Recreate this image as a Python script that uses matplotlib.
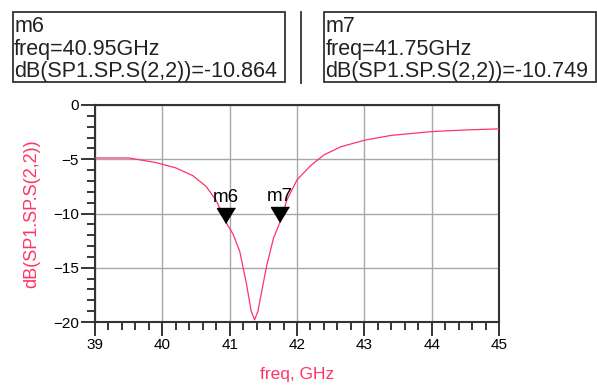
import matplotlib
matplotlib.use("Agg")
import matplotlib.pyplot as plt
from matplotlib.patches import Rectangle
from matplotlib.lines import Line2D
from matplotlib.ticker import MultipleLocator

plt.rcParams['font.family'] = ['Liberation Sans', 'DejaVu Sans']

# S(2,2) trace
freq = [39.0, 39.5, 39.9, 40.2, 40.45, 40.65, 40.8, 40.95, 41.05, 41.15,
        41.25, 41.32, 41.37, 41.42, 41.5, 41.55, 41.65, 41.75, 41.85, 42.0,
        42.2, 42.4, 42.65, 43.0, 43.4, 44.0, 44.5, 45.0]
s22_db = [-4.88, -4.88, -5.3, -5.8, -6.5, -7.5, -8.8, -10.86, -11.9, -13.5,
          -16.5, -19.0, -19.8, -19.0, -16.4, -14.8, -12.3, -10.75, -8.75, -6.9,
          -5.6, -4.6, -3.85, -3.25, -2.8, -2.45, -2.3, -2.2]

marker_names = ["m6", "m7"]
marker_freq = [40.95, 41.75]
marker_db = [-10.864, -10.749]

xticks = [39, 40, 41, 42, 43, 44, 45]
yticks = [0, -5, -10, -15, -20]

trace_color = '#ff3366'
W, H = 597, 390

fig = plt.figure(figsize=(W / 100, H / 100), dpi=100)
ax = fig.add_axes([95 / W, 1 - 322 / H, 404 / W, 217 / H])

ax.plot(freq, s22_db, color=trace_color, lw=0.9, zorder=3)

# marker triangles, tip on the trace
tri = [(0, 0), (-0.6, 1), (0.6, 1)]
for name, f, d in zip(marker_names, marker_freq, marker_db):
    ax.plot([f], [d], marker=tri, ms=21.6, color='black', mec='black', zorder=4)
    ax.annotate(name, xy=(f, d), xytext=(0, 18), textcoords='offset points',
                ha='center', va='center', fontsize=13.5, zorder=5)

ax.set_xlim(39, 45)
ax.set_ylim(-20, 0)
ax.set_xticks(xticks)
ax.set_yticks(yticks)
ax.xaxis.set_minor_locator(MultipleLocator(0.2))
ax.yaxis.set_minor_locator(MultipleLocator(1))
ax.grid(True, which='major', color='#a8a8a8', lw=1.0)
ax.set_axisbelow(True)
ax.tick_params(which='major', direction='out', length=10, width=1.1,
               labelsize=11, pad=1.5)
ax.tick_params(which='minor', direction='out', length=5.5, width=1.1)
for s in ax.spines.values():
    s.set_color('#333333')
    s.set_linewidth(1.5)

ax.set_xlabel("freq, GHz", color=trace_color, fontsize=12.5, labelpad=11)
ax.set_ylabel("dB(SP1.SP.S(2,2))", color=trace_color, fontsize=13, labelpad=9)

# marker readout boxes
boxes = [(12.7, 285), (324, 596)]
for (x0, x1), name, f, d in zip(boxes, marker_names, marker_freq, marker_db):
    fig.patches.append(Rectangle((x0 / W, 1 - 82 / H), (x1 - x0) / W, 69.5 / H,
                                 transform=fig.transFigure, fill=False,
                                 ec='#333333', lw=1.3))
    lines = [name, "freq=%.2fGHz" % f, "dB(SP1.SP.S(2,2))=%.3f" % d]
    for txt, yb in zip(lines, [32, 55, 77.5]):
        fig.text((x0 + 1.5) / W, 1 - yb / H, txt, fontsize=15.5,
                 ha='left', va='baseline', color='#222222')

fig.lines.append(Line2D([300.5 / W, 300.5 / W], [1 - 12 / H, 1 - 83 / H],
                        transform=fig.transFigure, color='#333333', lw=1.3))

fig.savefig("out.png", dpi=100)
